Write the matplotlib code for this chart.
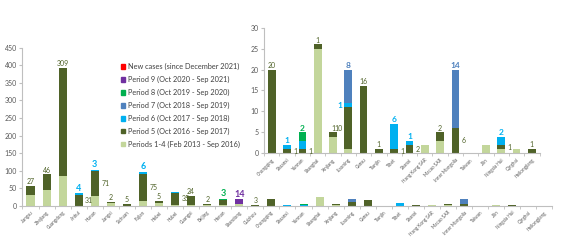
import numpy as np
import matplotlib.pyplot as plt
from matplotlib.patches import Patch

plt.rcParams['font.family'] = ['Lato', 'DejaVu Sans']

provinces = ['Jiangsu', 'Zhejiang', 'Guangdong', 'Anhui', 'Hunan', 'Jiangxi', 'Sichuan',
             'Fujian', 'Hebei', 'Hubei', 'Guangxi', 'Beijing', 'Henan', 'Shandong',
             'Guizhou', 'Chongqing', 'Shaanxi', 'Yunnan', 'Shanghai', 'Xinjiang',
             'Liaoning', 'Gansu', 'Tianjin', 'Tibet', 'Shanxi', 'Hong Kong SAR',
             'Macao SAR', 'Inner Mongolia', 'Taiwan', 'Jilin', 'Ningxia Hui', 'Qinghai',
             'Heilongjiang']

# cases per period, one value per province
p1_4 = [30, 44, 84, 1, 28, 9, 1, 15, 9, 3, 4, 3, 3, 5, 1,
        0, 0, 0, 25, 4, 1, 0, 0, 0, 0, 2, 3, 0, 0, 2, 1, 1, 0]
p5 = [27, 46, 309, 31, 71, 2, 5, 75, 5, 35, 24, 2, 14, 0, 3,
      20, 1, 1, 1, 1, 10, 16, 1, 1, 2, 0, 2, 6, 0, 0, 1, 0, 1]
p6 = [0, 0, 0, 4, 3, 0, 0, 6, 0, 1, 0, 0, 0, 0, 0,
      0, 1, 2, 0, 0, 1, 0, 0, 6, 1, 0, 0, 0, 0, 0, 2, 0, 0]
p7 = [0] * 20 + [8] + [0] * 6 + [14] + [0] * 5
p8 = [0] * 12 + [3] + [0] * 4 + [2] + [0] * 15
p9 = [0] * 13 + [14] + [0] * 19
new = [0] * 33

series = [
    ('Periods 1-4 (Feb 2013 - Sep 2016)', p1_4, '#c3d69b', None),
    ('Period 5 (Oct 2016 - Sep 2017)', p5, '#4f6228', '#4f6228'),
    ('Period 6 (Oct 2017 - Sep 2018)', p6, '#00b0f0', '#00b0f0'),
    ('Period 7 (Oct 2018 - Sep 2019)', p7, '#4f81bd', '#4f81bd'),
    ('Period 8 (Oct 2019 - Sep 2020)', p8, '#00b050', '#00b050'),
    ('Period 9 (Oct 2020 - Sep 2021)', p9, '#7030a0', '#7030a0'),
    ('New cases (since December 2021)', new, '#ff0000', '#ff0000'),
]

hidden = {('Hubei', 2), ('Henan', 1), ('Yunnan', 2)}
left_side = {'Liaoning'}
grey = '#595959'


def draw(ax, idx, big, small, step):
    x = np.arange(len(idx))
    bottom = np.zeros(len(idx))
    for name, vals, col, lcol in series:
        v = np.array([vals[i] for i in idx], dtype=float)
        ax.bar(x, v, 0.5, bottom=bottom, color=col, linewidth=0)
        bottom += v
    tops = bottom
    for j, i in enumerate(idx):
        b = 0
        segs = []
        for k, (name, vals, col, lcol) in enumerate(series):
            if vals[i] > 0:
                segs.append((k, b, vals[i], lcol))
                b += vals[i]
        for n, (k, b0, v, lcol) in enumerate(segs):
            if lcol is None or (provinces[i], k) in hidden:
                continue
            fs = small if k == 1 else big
            fw = 'normal' if k == 1 else 'bold'
            if n == len(segs) - 1:
                ax.text(j, tops[j] + step, str(v), ha='center', va='bottom',
                        color=lcol, fontsize=fs, fontweight=fw)
            else:
                side = -1 if provinces[i] in left_side else 1
                ax.text(j + side * 0.4, b0 + v / 2, str(v),
                        ha='left' if side > 0 else 'right', va='center',
                        color=lcol, fontsize=fs, fontweight=fw)
    ax.set_xlim(-0.5, len(idx) - 0.5)
    ax.set_xticks(x)
    ax.set_xticklabels([provinces[i] for i in idx], rotation=45, ha='right',
                       rotation_mode='anchor', fontsize=3.3, color=grey)
    ax.set_xticks(np.arange(len(idx) + 1) - 0.5, minor=True)
    ax.tick_params(axis='x', which='major', length=0, pad=3)
    ax.tick_params(axis='x', which='minor', length=2, color='#bfbfbf')
    ax.tick_params(axis='y', labelsize=5, colors=grey, length=2, pad=2)
    ax.tick_params(axis='y', color='#bfbfbf')
    for s in ['top', 'right']:
        ax.spines[s].set_visible(False)
    for s in ['left', 'bottom']:
        ax.spines[s].set_color('#bfbfbf')
        ax.spines[s].set_linewidth(0.8)
    ax.set_facecolor('none')


fig = plt.figure(figsize=(5.62, 2.4), dpi=100)

ax = fig.add_axes([0.040, 0.142, 0.943, 0.659])
draw(ax, list(range(33)), 6.5, 5, 2)
ax.set_ylim(0, 450)
ax.set_yticks(np.arange(0, 451, 50))
# only the first provinces carry labels in the main panel
for t in ax.texts[:]:
    if t.get_position()[0] > 14.6:
        t.remove()

ins = fig.add_axes([0.470, 0.361, 0.490, 0.524])
draw(ins, list(range(15, 33)), 6, 5, 0.2)
ins.set_ylim(0, 30)
ins.set_yticks(np.arange(0, 31, 5))

handles = [Patch(color=c, label=n) for n, v, c, l in series[::-1]]
fig.legend(handles=handles, loc='upper left', bbox_to_anchor=(0.203, 0.765),
           frameon=False, fontsize=5.3, handlelength=0.6, handleheight=0.6,
           handletextpad=0.4, labelspacing=0.78, labelcolor='#404040')

fig.savefig('out.png', dpi=100)
